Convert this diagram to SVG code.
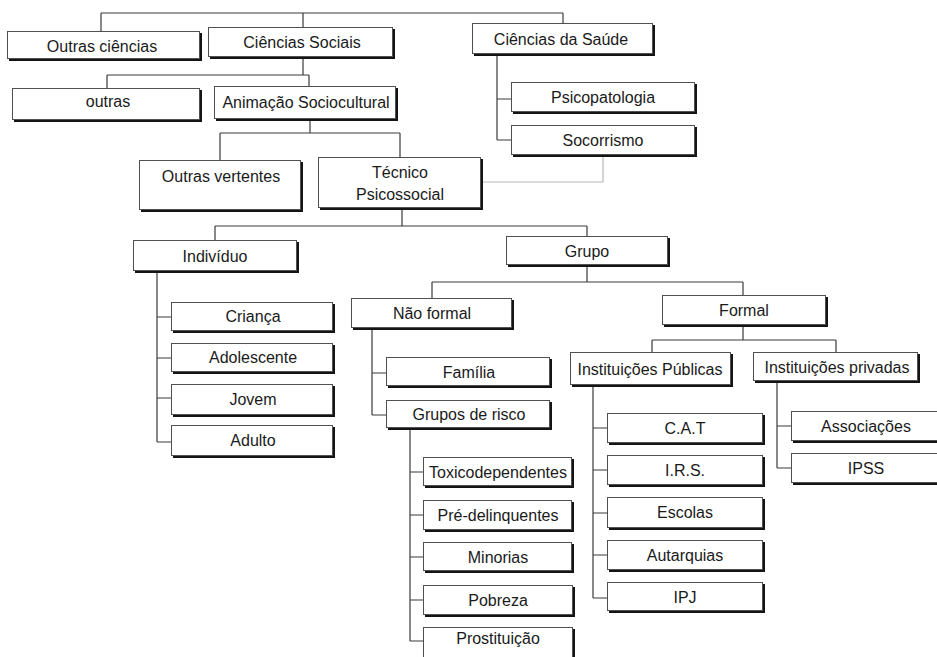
<svg xmlns="http://www.w3.org/2000/svg" width="937" height="657" viewBox="0 0 937 657">
<style>
.sh{fill:#141414}
.bx{fill:#fff;stroke:#505050;stroke-width:1}
text{font-family:"Liberation Sans",Arial,sans-serif;font-size:16px;fill:#1a1a1a;text-anchor:middle}
.ln{stroke:#3a3a3a;stroke-width:1.2;fill:none}
.lt{stroke:#b8b8b8;stroke-width:1.2;fill:none}
</style>
<rect width="937" height="657" fill="#fff"/>
<g id="connectors">
<path class="ln" d="M101,13H563M101,13V31M303,13V27M563,13V23"/>
<path class="ln" d="M303,59V75M107,75H309M107,75V88M309,75V86"/>
<path class="ln" d="M310,121V133M220,133H400M220,133V160M400,133V157"/>
<path class="ln" d="M497,56V140M497,99H511M497,140H511"/>
<path class="lt" d="M603,157V182H483"/>
<path class="ln" d="M402,210V226M215,226H587M215,226V240M587,226V236"/>
<path class="ln" d="M157,273V442M157,317H171M157,358H171M157,398H171M157,442H171"/>
<path class="ln" d="M587,267V282M432,282H743M432,282V298M743,282V295"/>
<path class="ln" d="M372,330V415M372,373H386M372,415H386"/>
<path class="ln" d="M743,327V340M652,340H836M652,340V352M836,340V352"/>
<path class="ln" d="M410,430V641M410,472H423M410,515H423M410,557H423M410,600H423M410,641H423"/>
<path class="ln" d="M593,387V598M593,428H607M593,470H607M593,513H607M593,555H607M593,598H607"/>
<path class="ln" d="M777,383V468M777,426H791M777,468H791"/>
</g>
<g id="outras-ciencias"><rect class="sh" x="9" y="33" width="193" height="28"/><rect class="bx" x="7.5" y="31.5" width="192" height="27"/><text x="102" y="52">Outras ciências</text></g>
<g id="ciencias-sociais"><rect class="sh" x="210" y="29" width="185" height="30"/><rect class="bx" x="208.5" y="27.5" width="184" height="29"/><text x="302" y="48">Ciências Sociais</text></g>
<g id="ciencias-saude"><rect class="sh" x="474" y="25" width="181" height="31"/><rect class="bx" x="472.5" y="23.5" width="180" height="30"/><text x="561" y="45">Ciências da Saúde</text></g>
<g id="outras"><rect class="sh" x="14" y="90" width="188" height="32"/><rect class="bx" x="12.5" y="88.5" width="187" height="31"/><text x="108" y="107">outras</text></g>
<g id="animacao"><rect class="sh" x="216" y="88" width="182" height="33"/><rect class="bx" x="214.5" y="86.5" width="181" height="32"/><text x="306" y="108">Animação Sociocultural</text></g>
<g id="psicopatologia"><rect class="sh" x="513" y="84" width="184" height="30"/><rect class="bx" x="511.5" y="82.5" width="183" height="29"/><text x="603" y="103">Psicopatologia</text></g>
<g id="socorrismo"><rect class="sh" x="513" y="127" width="184" height="30"/><rect class="bx" x="511.5" y="125.5" width="183" height="29"/><text x="603" y="146">Socorrismo</text></g>
<g id="outras-vertentes"><rect class="sh" x="141" y="162" width="162" height="50"/><rect class="bx" x="139.5" y="160.5" width="161" height="49"/><text x="221" y="182">Outras vertentes</text></g>
<g id="tecnico-psicossocial"><rect class="sh" x="320" y="159" width="163" height="51"/><rect class="bx" x="318.5" y="157.5" width="162" height="50"/><text x="400" y="178">Técnico</text><text x="400" y="200">Psicossocial</text></g>
<g id="individuo"><rect class="sh" x="135" y="242" width="164" height="31"/><rect class="bx" x="133.5" y="240.5" width="163" height="30"/><text x="215" y="262">Indivíduo</text></g>
<g id="grupo"><rect class="sh" x="508" y="238" width="162" height="29"/><rect class="bx" x="506.5" y="236.5" width="161" height="28"/><text x="587" y="257">Grupo</text></g>
<g id="nao-formal"><rect class="sh" x="353" y="300" width="161" height="30"/><rect class="bx" x="351.5" y="298.5" width="160" height="29"/><text x="432" y="319">Não formal</text></g>
<g id="formal"><rect class="sh" x="664" y="297" width="164" height="30"/><rect class="bx" x="662.5" y="295.5" width="163" height="29"/><text x="744" y="316">Formal</text></g>
<g id="familia"><rect class="sh" x="388" y="359" width="164" height="29"/><rect class="bx" x="386.5" y="357.5" width="163" height="28"/><text x="469" y="378">Família</text></g>
<g id="grupos-risco"><rect class="sh" x="388" y="402" width="164" height="28"/><rect class="bx" x="386.5" y="400.5" width="163" height="27"/><text x="469" y="420">Grupos de risco</text></g>
<g id="instituicoes-publicas"><rect class="sh" x="572" y="354" width="161" height="33"/><rect class="bx" x="570.5" y="352.5" width="160" height="32"/><text x="650" y="375">Instituições Públicas</text></g>
<g id="instituicoes-privadas"><rect class="sh" x="755" y="354" width="165" height="29"/><rect class="bx" x="753.5" y="352.5" width="164" height="28"/><text x="837" y="373">Instituições privadas</text></g>
<g id="crianca"><rect class="sh" x="173" y="304" width="162" height="29"/><rect class="bx" x="171.5" y="302.5" width="161" height="28"/><text x="253" y="322">Criança</text></g>
<g id="adolescente"><rect class="sh" x="173" y="345" width="162" height="29"/><rect class="bx" x="171.5" y="343.5" width="161" height="28"/><text x="253" y="363">Adolescente</text></g>
<g id="jovem"><rect class="sh" x="173" y="386" width="162" height="31"/><rect class="bx" x="171.5" y="384.5" width="161" height="30"/><text x="253" y="405">Jovem</text></g>
<g id="adulto"><rect class="sh" x="173" y="427" width="162" height="31"/><rect class="bx" x="171.5" y="425.5" width="161" height="30"/><text x="253" y="446">Adulto</text></g>
<g id="toxicodependentes"><rect class="sh" x="425" y="459" width="149" height="29"/><rect class="bx" x="423.5" y="457.5" width="148" height="28"/><text x="498" y="478">Toxicodependentes</text></g>
<g id="pre-delinquentes"><rect class="sh" x="425" y="502" width="149" height="30"/><rect class="bx" x="423.5" y="500.5" width="148" height="29"/><text x="498" y="521">Pré-delinquentes</text></g>
<g id="minorias"><rect class="sh" x="425" y="544" width="149" height="29"/><rect class="bx" x="423.5" y="542.5" width="148" height="28"/><text x="498" y="563">Minorias</text></g>
<g id="pobreza"><rect class="sh" x="425" y="587" width="150" height="30"/><rect class="bx" x="423.5" y="585.5" width="149" height="29"/><text x="498" y="606">Pobreza</text></g>
<g id="prostituicao"><rect class="sh" x="425" y="629" width="150" height="38"/><rect class="bx" x="423.5" y="627.5" width="149" height="37"/><text x="498" y="644">Prostituição</text></g>
<g id="cat"><rect class="sh" x="609" y="415" width="156" height="30"/><rect class="bx" x="607.5" y="413.5" width="155" height="29"/><text x="685" y="434">C.A.T</text></g>
<g id="irs"><rect class="sh" x="609" y="457" width="156" height="30"/><rect class="bx" x="607.5" y="455.5" width="155" height="29"/><text x="685" y="476">I.R.S.</text></g>
<g id="escolas"><rect class="sh" x="609" y="499" width="156" height="31"/><rect class="bx" x="607.5" y="497.5" width="155" height="30"/><text x="685" y="518">Escolas</text></g>
<g id="autarquias"><rect class="sh" x="609" y="542" width="156" height="30"/><rect class="bx" x="607.5" y="540.5" width="155" height="29"/><text x="685" y="561">Autarquias</text></g>
<g id="ipj"><rect class="sh" x="609" y="584" width="156" height="29"/><rect class="bx" x="607.5" y="582.5" width="155" height="28"/><text x="685" y="603">IPJ</text></g>
<g id="associacoes"><rect class="sh" x="793" y="413" width="147" height="30"/><rect class="bx" x="791.5" y="411.5" width="146" height="29"/><text x="866" y="432">Associações</text></g>
<g id="ipss"><rect class="sh" x="793" y="455" width="147" height="30"/><rect class="bx" x="791.5" y="453.5" width="146" height="29"/><text x="866" y="474">IPSS</text></g>
</svg>
